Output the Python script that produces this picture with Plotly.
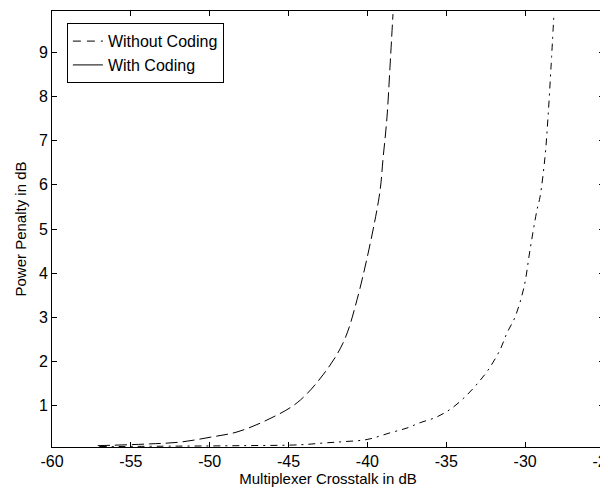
import plotly.graph_objects as go

# Curve 1 (long dashes, left)
x_left = [-57.1, -53.8, -51.9, -49.98, -48.27, -46.37, -44.46, -42.82, -41.55,
          -40.66, -39.26, -39.0, -38.76, -38.57, -38.38]
y_left = [0.10, 0.14, 0.18, 0.29, 0.41, 0.68, 1.07, 1.70, 2.42,
          3.40, 5.72, 6.63, 7.53, 8.66, 9.86]

# Curve 2 (dash-dot, right)
x_right = [-57.0, -52.0, -48.0, -44.27, -42.8, -41.55, -40.02, -38.57, -37.49,
           -36.66, -35.6, -34.64, -33.68, -32.99, -32.35, -31.59, -31.15,
           -30.64, -30.07, -29.69, -29.25, -29.06, -28.74, -28.55, -28.36, -28.17]
y_right = [0.08, 0.09, 0.10, 0.12, 0.16, 0.19, 0.24, 0.39, 0.50,
           0.62, 0.75, 0.95, 1.25, 1.52, 1.81, 2.27, 2.65,
           3.01, 3.69, 4.53, 5.43, 5.72, 6.63, 7.53, 8.66, 9.88]

legend_names = ["Without Coding", "With Coding"]
x_ticks = [-60, -55, -50, -45, -40, -35, -30, -25]
y_ticks = [1, 2, 3, 4, 5, 6, 7, 8, 9]

font = "Liberation Sans, Arial, sans-serif"
fs = 16

fig = go.Figure()
fig.add_trace(go.Scatter(x=x_left, y=y_left, mode="lines", line_shape="spline",
                         line=dict(color="black", width=1, dash="12px,5px"),
                         showlegend=False))
fig.add_trace(go.Scatter(x=x_right, y=y_right, mode="lines", line_shape="spline",
                         line=dict(color="black", width=1, dash="7px,5px,2px,5px"),
                         showlegend=False))
fig.add_trace(go.Scatter(x=[None], y=[None], mode="lines", name=legend_names[0],
                         line=dict(color="black", width=1, dash="8px,6px")))
fig.add_trace(go.Scatter(x=[None], y=[None], mode="lines", name=legend_names[1],
                         line=dict(color="black", width=1)))

axis_common = dict(showgrid=False, zeroline=False, showline=True, linecolor="black",
                   linewidth=1, mirror="ticks", ticks="inside", ticklen=5,
                   automargin=False,
                   tickcolor="black", tickfont=dict(family=font, size=fs, color="black"))

# page body has an 8px default margin, so the figure is 600x480 and shifted
fig.update_layout(
    width=600, height=480,
    margin=dict(l=44, r=4, t=3, b=41),
    paper_bgcolor="white", plot_bgcolor="white",
    font=dict(family=font, size=fs, color="black"),
    xaxis=dict(range=[-60, -25], tickvals=x_ticks, ticktext=[str(v) for v in x_ticks],
               ticklabeloverflow="allow",
               title=dict(text="Multiplexer Crosstalk in dB", standoff=0,
                          font=dict(family=font, size=15)),
               **axis_common),
    yaxis=dict(range=[0.07, 9.93], tickvals=y_ticks, ticktext=[str(v) for v in y_ticks],
               title=dict(text="Power Penalty in dB", standoff=8,
                          font=dict(family=font, size=15)),
               **axis_common),
    legend=dict(x=0.027, y=0.972, xanchor="left", yanchor="top",
                bgcolor="white", bordercolor="black", borderwidth=1,
                font=dict(family=font, size=fs), itemwidth=30,
                tracegroupgap=0),
)

fig.write_html("out.html")
